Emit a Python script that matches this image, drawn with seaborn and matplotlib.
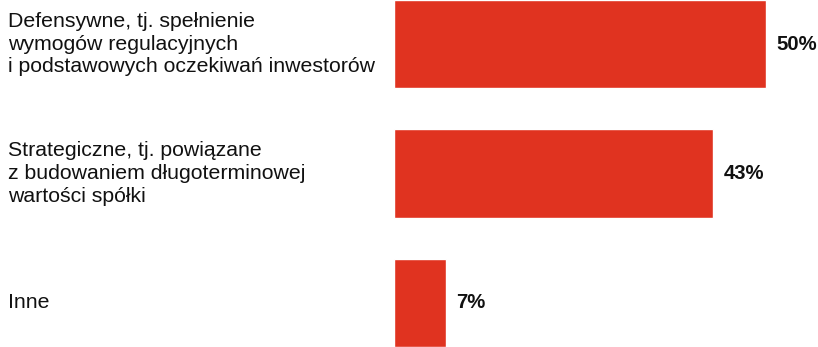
import matplotlib
matplotlib.use("Agg")
import matplotlib.pyplot as plt
import matplotlib.transforms as mtransforms
import pandas as pd
import seaborn as sns

categories = [
    "Defensywne, tj. spełnienie\nwymogów regulacyjnych\ni podstawowych oczekiwań inwestorów",
    "Strategiczne, tj. powiązane\nz budowaniem długoterminowej\nwartości spółki",
    "Inne",
]
values = [50, 43, 7]
value_labels = ["50%", "43%", "7%"]

sns.set_theme(style="white")
plt.rcParams["font.family"] = ["Liberation Sans", "DejaVu Sans"]

W, H, DPI = 818, 347, 100
fig = plt.figure(figsize=(W / DPI, H / DPI), dpi=DPI)
left_px = 394
ax = fig.add_axes([left_px / W, 0, 1 - left_px / W, 1])

df = pd.DataFrame({"kategoria": categories, "udzial": values})
sns.barplot(data=df, x="udzial", y="kategoria", orient="h", color="#E03320",
            saturation=1, width=0.68, ax=ax)

px_per_unit = 7.43
ax.set_xlim(0, (W - left_px) / px_per_unit)
ax.set_ylim(2.34, -0.34)
ax.axis("off")

# category texts at the left edge of the figure, centred on each bar
trans = mtransforms.blended_transform_factory(fig.transFigure, ax.transData)
for i, cat in enumerate(categories):
    ax.text(8 / W, i, cat, transform=trans, ha="left", va="center",
            fontsize=15.3, linespacing=1.25, color="#111111", clip_on=False)

# value labels just past each bar end
for i, (v, lab) in enumerate(zip(values, value_labels)):
    ax.annotate(lab, xy=(v, i), xytext=(7.5, 0), textcoords="offset points",
                ha="left", va="center", fontsize=14.6, fontweight="bold",
                color="#111111")

fig.savefig("out.png", dpi=DPI)
